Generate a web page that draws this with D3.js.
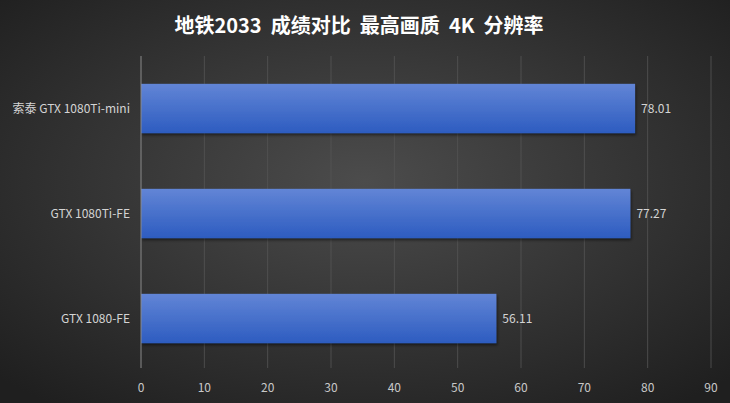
<!DOCTYPE html>
<html lang="zh">
<head>
  <meta charset="UTF-8">
  <title>地铁2033 成绩对比</title>
  <script src="https://d3js.org/d3.v7.min.js"></script>
  <style>
    body { margin: 0; background: #2a2a2a; }
    svg { display: block; font-family: "Noto Sans CJK SC", "Open Sans", sans-serif; }
  </style>
</head>
<body>
<script>
  // chart data
  const cards = ['索泰 GTX 1080Ti-mini', 'GTX 1080Ti-FE', 'GTX 1080-FE'];
  const fps = [78.01, 77.27, 56.11];
  const ticks = [0, 10, 20, 30, 40, 50, 60, 70, 80, 90];

  const width = 730, height = 403;
  const margin = { top: 56, right: 19, bottom: 32, left: 141 };

  const svg = d3.select('body').append('svg')
    .attr('width', width)
    .attr('height', height);

  const defs = svg.append('defs');

  // dark vignette background
  const bg = defs.append('radialGradient').attr('id', 'bg')
    .attr('cx', '50%').attr('cy', '45%').attr('r', '70%');
  bg.append('stop').attr('offset', '0%').attr('stop-color', '#4c4c4c');
  bg.append('stop').attr('offset', '100%').attr('stop-color', '#1f1f1f');

  const barGrad = defs.append('linearGradient').attr('id', 'bar')
    .attr('x1', 0).attr('y1', 0).attr('x2', 0).attr('y2', 1);
  barGrad.append('stop').attr('offset', '0%').attr('stop-color', '#6285d6');
  barGrad.append('stop').attr('offset', '100%').attr('stop-color', '#2d5cc0');

  const shadow = defs.append('filter').attr('id', 'shadow')
    .attr('x', '-5%').attr('y', '-10%').attr('width', '110%').attr('height', '130%');
  shadow.append('feDropShadow')
    .attr('dx', 1).attr('dy', 2).attr('stdDeviation', 1.5)
    .attr('flood-color', '#000').attr('flood-opacity', 0.5);

  svg.append('rect').attr('width', width).attr('height', height).attr('fill', 'url(#bg)');

  svg.append('text')
    .attr('x', width / 2 - 6)
    .attr('y', 33)
    .attr('text-anchor', 'middle')
    .attr('fill', '#fff')
    .attr('font-size', 20)
    .attr('font-weight', 'bold')
    .style('white-space', 'pre')
    .text('地铁2033  成绩对比  最高画质  4K  分辨率');

  const x = d3.scaleLinear()
    .domain([0, 90])
    .range([margin.left, width - margin.right]);

  const y = d3.scaleBand()
    .domain(cards)
    .range([margin.top, height - margin.bottom])
    .paddingInner(0.53)
    .paddingOuter(0.265);

  const plotBottom = height - margin.bottom - 3;

  // vertical grid lines
  svg.append('g').selectAll('line')
    .data(ticks.slice(1))
    .join('line')
    .attr('x1', d => x(d)).attr('x2', d => x(d))
    .attr('y1', margin.top).attr('y2', plotBottom)
    .attr('stroke', '#555')
    .attr('stroke-opacity', 0.8)
    .attr('stroke-width', 1);

  // bars
  svg.append('g').selectAll('rect')
    .data(fps)
    .join('rect')
    .attr('x', x(0))
    .attr('y', (d, i) => y(cards[i]))
    .attr('width', d => x(d) - x(0))
    .attr('height', y.bandwidth())
    .attr('fill', 'url(#bar)')
    .attr('filter', 'url(#shadow)');

  // category axis line
  svg.append('line')
    .attr('x1', x(0)).attr('x2', x(0))
    .attr('y1', margin.top).attr('y2', plotBottom)
    .attr('stroke', '#8a8a8a');

  // value labels
  svg.append('g').selectAll('text')
    .data(fps)
    .join('text')
    .attr('x', d => x(d) + 6)
    .attr('y', (d, i) => y(cards[i]) + y.bandwidth() / 2)
    .attr('dy', '0.35em')
    .attr('fill', '#d4d4d4')
    .attr('font-size', 12)
    .text(d => d.toFixed(2));

  // category labels
  svg.append('g').selectAll('text')
    .data(cards)
    .join('text')
    .attr('x', x(0) - 11)
    .attr('y', d => y(d) + y.bandwidth() / 2)
    .attr('dy', '0.35em')
    .attr('text-anchor', 'end')
    .attr('fill', '#d4d4d4')
    .attr('font-size', 12)
    .text(d => d);

  // x tick labels
  svg.append('g').selectAll('text')
    .data(ticks)
    .join('text')
    .attr('x', d => x(d))
    .attr('y', 392)
    .attr('text-anchor', 'middle')
    .attr('fill', '#c8c8c8')
    .attr('font-size', 12)
    .text(d => d);
</script>
</body>
</html>
